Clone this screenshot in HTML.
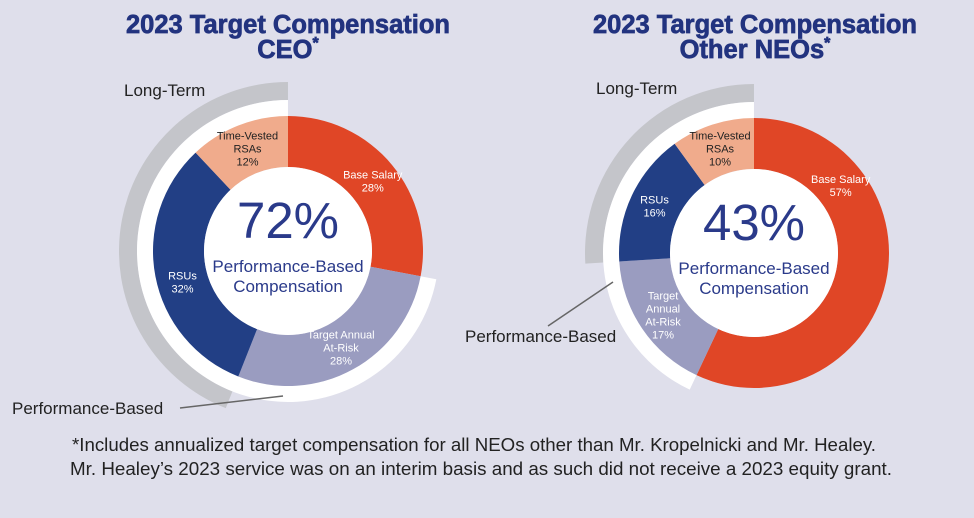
<!DOCTYPE html>
<html><head><meta charset="utf-8"><style>
body{margin:0;background:#dfdfeb;width:974px;height:518px;overflow:hidden;font-family:"Liberation Sans",sans-serif}
svg{display:block}
</style></head><body>
<svg width="974" height="518" viewBox="0 0 974 518">
<rect width="974" height="518" fill="#dfdfeb"/>
<g font-family="Liberation Sans, sans-serif" font-weight="bold" fill="#22337f" stroke="#22337f" stroke-width="0.7" text-anchor="middle" font-size="25.5">
<text x="288" y="33">2023 Target Compensation</text>
<text x="288" y="58">CEO<tspan dy="-10" font-size="16">*</tspan></text>
<text x="755" y="33">2023 Target Compensation</text>
<text x="755" y="58">Other NEOs<tspan dy="-10" font-size="16">*</tspan></text>
</g>
<g id="charts"></g>
<g font-family="Liberation Sans, sans-serif" fill="#222" font-size="17">
<text x="124" y="96">Long-Term</text>
<text x="12" y="414">Performance-Based</text>
<text x="596" y="94">Long-Term</text>
<text x="465" y="342">Performance-Based</text>
</g>
<line x1="180" y1="408" x2="283" y2="396" stroke="#666" stroke-width="1.5"/>
<line x1="548" y1="326" x2="613" y2="282" stroke="#666" stroke-width="1.5"/>
<g font-family="Liberation Sans, sans-serif" fill="#222" font-size="18">
<text x="72" y="451" textLength="804" lengthAdjust="spacingAndGlyphs">*Includes annualized target compensation for all NEOs other than Mr. Kropelnicki and Mr. Healey.</text>
<text x="70" y="475" textLength="822" lengthAdjust="spacingAndGlyphs">Mr. Healey’s 2023 service was on an interim basis and as such did not receive a 2023 equity grant.</text>
</g>
</svg>
<script>
const categories=["Base Salary","Target Annual At-Risk","RSUs","Time-Vested RSAs"];
const ceoValues=[28,28,32,12];
const neoValues=[57,17,16,10];
const centerValues=["72%","43%"];
const colors=["#e04626","#9a9cc0","#223f85","#f0ab8c"];
const textColors=["#fff","#fff","#fff","#222"];
const g=document.getElementById('charts');
const NS="http://www.w3.org/2000/svg";
function pt(cx,cy,r,a){const t=a*Math.PI/180;return [cx+r*Math.sin(t),cy-r*Math.cos(t)];}
function arc(cx,cy,r0,r1,a0,a1){
 const l=(a1-a0)>180?1:0;const p1=pt(cx,cy,r1,a0),p2=pt(cx,cy,r1,a1),p3=pt(cx,cy,r0,a1),p4=pt(cx,cy,r0,a0);
 return `M${p1}A${r1},${r1} 0 ${l} 1 ${p2}L${p3}A${r0},${r0} 0 ${l} 0 ${p4}Z`;}
function mk(tag,attrs){const e=document.createElementNS(NS,tag);for(const k in attrs)e.setAttribute(k,attrs[k]);return e;}
function chart(cx,cy,vals,center,prefix,labelLines){
 const tot=vals.reduce((a,b)=>a+b,0);const deg=v=>v/tot*360;
 const perfStart=deg(vals[0]), ltStart=deg(vals[0]+vals[1]);
 const gray=mk('path',{d:arc(cx,cy,151,169,ltStart,359.99),fill:'#c4c5ca'});
 
 
 g.appendChild(gray);
 const white=mk('path',{d:arc(cx,cy,134,151,perfStart,359.99),fill:'#fff'});
 
 
 g.appendChild(white);
 let a=0;
 vals.forEach((v,i)=>{
  const a1=a+deg(v);
  const p=mk('path',{d:arc(cx,cy,84,135,a,a1),fill:colors[i]});
  
  
  g.appendChild(p);
  let mid=(a+a1)/2; if(mid-a>55) mid=a+52;
  const c=pt(cx,cy,110,mid);
  const lines=labelLines[i].concat([v+'%']);
  const t=mk('text',{x:c[0],y:c[1]-(lines.length-1)*6.5+4,fill:textColors[i],'font-size':'11','text-anchor':'middle','font-family':'Liberation Sans, sans-serif'});
  
  
  lines.forEach((s,j)=>{const ts=mk('tspan',{x:c[0],dy:j?13:0});ts.textContent=s;t.appendChild(ts);});
  g.appendChild(t);
  a=a1;
 });
 const inner=mk('circle',{cx:cx,cy:cy,r:84,fill:'#fff'});
 
 
 g.appendChild(inner);
 const big=mk('text',{x:cx,y:cy-13,'text-anchor':'middle','font-size':'51',fill:'#2a3a8a','font-family':'Liberation Sans, sans-serif'});
 big.textContent=center;
 
 
 g.appendChild(big);
 ['Performance-Based','Compensation'].forEach((s,j)=>{
  const t=mk('text',{x:cx,y:cy+21+j*20,'text-anchor':'middle','font-size':'17',fill:'#2a3a8a','font-family':'Liberation Sans, sans-serif'});
  t.textContent=s;
  
  
  g.appendChild(t);
 });
}
chart(288,251,ceoValues,centerValues[0],'ceo',[["Base Salary"],["Target Annual","At-Risk"],["RSUs"],["Time-Vested","RSAs"]]);
chart(754,253,neoValues,centerValues[1],'neo',[["Base Salary"],["Target","Annual","At-Risk"],["RSUs"],["Time-Vested","RSAs"]]);
</script>
</body></html>
